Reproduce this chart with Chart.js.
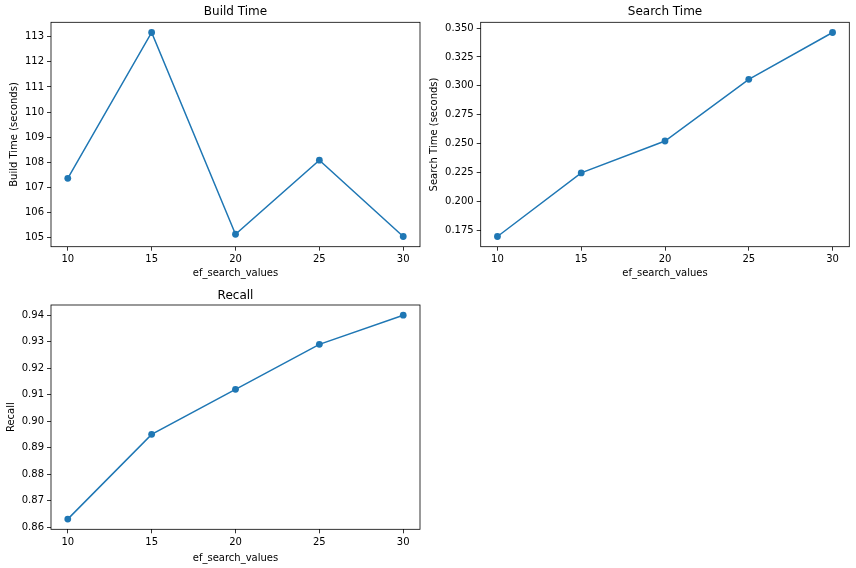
<!DOCTYPE html>
<html>
<head>
<meta charset="utf-8">
<script src="https://cdn.jsdelivr.net/npm/chart.js@4/dist/chart.umd.min.js"></script>
<style>
  body { margin: 0; background: #fff; }
  .cell { position: absolute; }
</style>
</head>
<body>
<div class="cell" style="left:0px;top:0px"><canvas id="chBuild" width="430" height="284"></canvas></div>
<div class="cell" style="left:428px;top:0px"><canvas id="chSearch" width="428" height="284"></canvas></div>
<div class="cell" style="left:0px;top:284px"><canvas id="chRecall" width="430" height="284"></canvas></div>
<script>
// data
var efSearch = [ 10, 15, 20, 25, 30 ];
var buildTime = [ 107.36, 113.17, 105.13, 108.08, 105.04 ];
var searchTime = [ 0.1695, 0.2246, 0.2522, 0.3056, 0.3462 ];
var recall = [ 0.863, 0.895, 0.912, 0.929, 0.940 ];

// tick labels
var xTicks = [ 10, 15, 20, 25, 30 ];
var buildTicks = [ 105, 106, 107, 108, 109, 110, 111, 112, 113 ];
var searchTicks = [ 0.175, 0.200, 0.225, 0.250, 0.275, 0.300, 0.325, 0.350 ];
var recallTicks = [ 0.86, 0.87, 0.88, 0.89, 0.90, 0.91, 0.92, 0.93, 0.94 ];

var blue = '#1f77b4';
var font = 'DejaVu Sans';

// matplotlib-like 5% margins
function padRange(arr) {
	var lo = Math.min.apply(null, arr), hi = Math.max.apply(null, arr);
	var m = (hi - lo) * 0.05;
	return { min: lo - m, max: hi + m };
}

// box around the plot area
var frame = {
	id: 'frame',
	afterDraw: function(chart) {
		var a = chart.chartArea, ctx = chart.ctx;
		ctx.save();
		ctx.strokeStyle = '#000';
		ctx.lineWidth = 0.8;
		ctx.strokeRect(a.left, a.top, a.right - a.left, a.bottom - a.top);
		ctx.restore();
	}
};

function makeChart(id, ys, yTicks, decimals, title, yLabel, g) {
	var el = document.getElementById(id);
	if (!el) return;
	var xr = padRange(efSearch), yr = padRange(ys);
	new Chart(el, {
		type: 'line',
		data: {
			labels: efSearch,
			datasets: [
				{
					data: efSearch.map(function(x, i) { return { x: x, y: ys[i] }; }),
					borderColor: blue,
					backgroundColor: blue,
					borderWidth: 1.5,
					pointRadius: 3.4,
					pointBorderWidth: 0,
					pointHoverRadius: 3.4,
					tension: 0
				}
			]
		},
		options: {
			responsive: false,
			animation: false,
			devicePixelRatio: 1,
			layout: { padding: { left: 0, top: 0, right: g.right, bottom: 0 } },
			plugins: {
				legend: { display: false },
				tooltip: { enabled: false },
				title: {
					display: true,
					text: title,
					fullSize: false,
					color: '#000',
					font: { family: font, size: 12, weight: 'normal' },
					padding: { top: g.tTop, bottom: g.tBottom }
				}
			},
			scales: {
				x: {
					type: 'linear',
					min: xr.min,
					max: xr.max,
					afterBuildTicks: function(s) { s.ticks = xTicks.map(function(v) { return { value: v }; }); },
					afterFit: function(s) { s.height = g.xH; },
					grid: { drawOnChartArea: false, drawTicks: true, tickLength: 4, color: '#000', lineWidth: 0.8 },
					border: { display: false },
					ticks: { color: '#000', padding: 3, maxRotation: 0, font: { family: font, size: 10 } },
					title: {
						display: true,
						text: 'ef_search_values',
						color: '#000',
						font: { family: font, size: 10 },
						padding: { top: 0, bottom: g.xtBottom }
					}
				},
				y: {
					type: 'linear',
					min: yr.min,
					max: yr.max,
					afterBuildTicks: function(s) { s.ticks = yTicks.map(function(v) { return { value: v }; }); },
					afterFit: function(s) { s.width = g.yW; },
					grid: { drawOnChartArea: false, drawTicks: true, tickLength: 4, color: '#000', lineWidth: 0.8 },
					border: { display: false },
					ticks: {
						color: '#000',
						padding: 3,
						font: { family: font, size: 10 },
						callback: function(v) { return Number(v).toFixed(decimals); }
					},
					title: {
						display: true,
						text: yLabel,
						color: '#000',
						font: { family: font, size: 10 },
						padding: { top: g.ytTop, bottom: 0 }
					}
				}
			}
		},
		plugins: [ frame ]
	});
}

makeChart('chBuild', buildTime, buildTicks, 0, 'Build Time', 'Build Time (seconds)',
	{ yW: 51, right: 10, xH: 37.3, tTop: 5.1, tBottom: 2.8, xtBottom: 4.7, ytTop: 8.7 });
makeChart('chSearch', searchTime, searchTicks, 3, 'Search Time', 'Search Time (seconds)',
	{ yW: 52.7, right: 6.7, xH: 37.3, tTop: 5.1, tBottom: 2.8, xtBottom: 4.7, ytTop: 0.7 });
makeChart('chRecall', recall, recallTicks, 2, 'Recall', 'Recall',
	{ yW: 51, right: 10, xH: 38.7, tTop: 4.5, tBottom: 2.1, xtBottom: 3.7, ytTop: 5.3 });
</script>
</body>
</html>
